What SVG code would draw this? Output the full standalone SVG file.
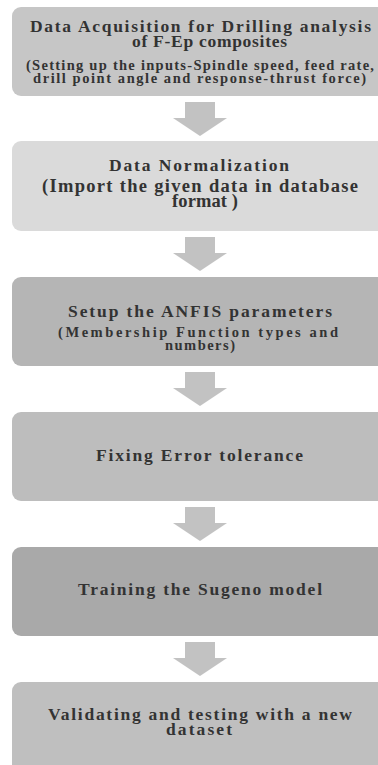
<svg xmlns="http://www.w3.org/2000/svg" width="378" height="765" viewBox="0 0 378 765">
<style>
.box{stroke:none}
.t{font-family:"Liberation Serif","Times New Roman",serif;font-weight:bold;fill:#333}
.h{font-size:17.5px}
.s{font-size:14.5px}
.b{font-size:18.5px}
.arr{fill:#c2c2c2}
</style>
<rect width="378" height="765" fill="#fff"/>
<g id="n1">
<rect class="box" x="12" y="7" width="380" height="89" rx="9" fill="#c6c6c6"/>
<text class="t h" x="30" y="32" textLength="341" lengthAdjust="spacing">Data Acquisition for Drilling analysis</text>
<text class="t h" x="132" y="47" textLength="155" lengthAdjust="spacing">of F-Ep composites</text>
<text class="t s" x="26" y="70" textLength="348" lengthAdjust="spacing">(Setting up the inputs-Spindle speed, feed rate,</text>
<text class="t s" x="33" y="83" textLength="333" lengthAdjust="spacing">drill point angle and response-thrust force)</text>
</g>
<g id="n2">
<rect class="box" x="12" y="141" width="380" height="90" rx="9" fill="#dadada"/>
<text class="t h" x="109" y="171" textLength="180" lengthAdjust="spacing">Data Normalization</text>
<text class="t b" x="42" y="192" textLength="316" lengthAdjust="spacing">(Import the given data in database</text>
<text class="t b" x="172" y="207" textLength="66" lengthAdjust="spacing">format )</text>
</g>
<g id="n3">
<rect class="box" x="12" y="277" width="380" height="89" rx="9" fill="#b5b5b5"/>
<text class="t h" x="68" y="317" textLength="264" lengthAdjust="spacing">Setup the ANFIS parameters</text>
<text class="t s" x="58" y="337" textLength="280" lengthAdjust="spacing">(Membership Function types and</text>
<text class="t s" x="165" y="350" textLength="70" lengthAdjust="spacing">numbers)</text>
</g>
<g id="n4">
<rect class="box" x="12" y="412" width="380" height="89" rx="9" fill="#bdbdbd"/>
<text class="t h" x="96" y="461" textLength="207" lengthAdjust="spacing">Fixing Error tolerance</text>
</g>
<g id="n5">
<rect class="box" x="12" y="547" width="380" height="89" rx="9" fill="#a9a9a9"/>
<text class="t h" x="78" y="595" textLength="244" lengthAdjust="spacing">Training the Sugeno model</text>
</g>
<g id="n6">
<rect class="box" x="12" y="682" width="380" height="100" rx="9" fill="#bfbfbf"/>
<text class="t h" x="48" y="720" textLength="304" lengthAdjust="spacing">Validating and testing with a new</text>
<text class="t h" x="166" y="735" textLength="66" lengthAdjust="spacing">dataset</text>
</g>
<g id="connectors" class="arr">
<path d="M185,102H215V118H227L200,136L173,118H185Z"/>
<path d="M185,237H215V253H227L200,271L173,253H185Z"/>
<path d="M185,372H215V388H227L200,406L173,388H185Z"/>
<path d="M185,507H215V523H227L200,541L173,523H185Z"/>
<path d="M185,642H215V658H227L200,676L173,658H185Z"/>
</g>
</svg>
